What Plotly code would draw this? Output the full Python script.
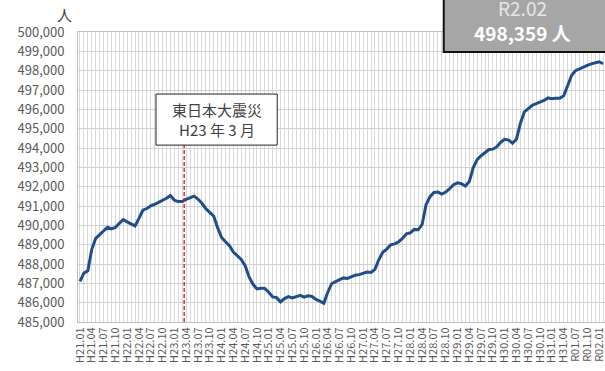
import plotly.graph_objects as go

# Monthly resident population, H21.01 (index 0) through R02.02 (index 133)
population = [
    487100, 487530, 487650, 488760, 489330, 489520, 489720, 489900, 489820, 489890,
    490100, 490300, 490180, 490070, 489970, 490360, 490780, 490870, 491010, 491090,
    491190, 491290, 491400, 491540, 491300, 491230, 491230, 491340, 491430, 491510,
    491360, 491140, 490860, 490660, 490480, 489880, 489370, 489150, 488950, 488620,
    488440, 488240, 487910, 487330, 486950, 486710, 486750, 486740, 486540, 486300,
    486260, 486040, 486210, 486310, 486240, 486310, 486380, 486290, 486360, 486320,
    486170, 486080, 485970, 486540, 486980, 487090, 487200, 487280, 487250, 487340,
    487420, 487450, 487510, 487580, 487560, 487720, 488230, 488610, 488770, 488990,
    489040, 489140, 489320, 489560, 489610, 489790, 489770, 490050, 491070, 491480,
    491700, 491720, 491620, 491720, 491900, 492100, 492200, 492150, 492030, 492270,
    492990, 493400, 493600, 493780, 493920, 493940, 494070, 494300, 494450, 494410,
    494250, 494470, 495280, 495870, 496030, 496210, 496290, 496360, 496460, 496590,
    496550, 496570, 496570, 496700, 497200, 497750, 498000, 498100, 498170, 498270,
    498350, 498400, 498460, 498359,
]
months = list(range(len(population)))

# Quarterly axis labels (every 3rd month)
tick_labels = [
    "H21.01", "H21.04", "H21.07", "H21.10",
    "H22.01", "H22.04", "H22.07", "H22.10",
    "H23.01", "H23.04", "H23.07", "H23.10",
    "H24.01", "H24.04", "H24.07", "H24.10",
    "H25.01", "H25.04", "H25.07", "H25.10",
    "H26.01", "H26.04", "H26.07", "H26.10",
    "H27.01", "H27.04", "H27.07", "H27.10",
    "H28.01", "H28.04", "H28.07", "H28.10",
    "H29.01", "H29.04", "H29.07", "H29.10",
    "H30.01", "H30.04", "H30.07", "H30.10",
    "H31.01", "H31.04", "R01.07", "R01.10",
    "R02.01",
]
tick_positions = [3 * i for i in range(len(tick_labels))]

# Great East Japan Earthquake: March 2011, between H23.03 and H23.04 data points
quake_month = 26.5
latest_label = "R2.02"
latest_value = population[-1]

FONT = "Noto Sans CJK JP, Noto Sans, sans-serif"
GRID = "#d9d9d9"
LABEL = "#595959"

fig = go.Figure()
fig.add_trace(go.Scatter(
    x=months, y=population, mode="lines",
    line=dict(color="#1F4E89", width=3),
    hoverinfo="skip",
))

# Earthquake marker line
fig.add_shape(
    type="line", xref="x", yref="paper",
    x0=quake_month, x1=quake_month, y0=0, y1=0.61,
    line=dict(color="#C8282E", width=1.4, dash="4px,2px"),
)
# Earthquake label box
fig.add_shape(
    type="rect", xref="paper", yref="paper",
    x0=0.148, x1=0.378, y0=0.610, y1=0.786,
    fillcolor="white", line=dict(color="#222222", width=1),
)
fig.add_annotation(
    xref="paper", yref="paper", x=0.263, y=0.698,
    text="東日本大震災<br>H23 年 3 月",
    showarrow=False, font=dict(family=FONT, size=15, color="#404040"),
    xanchor="center", yanchor="middle", align="center", borderpad=0,
)

# Latest value callout
fig.add_shape(
    type="rect", xref="paper", yref="paper",
    x0=0.694, x1=1.06, y0=0.931, y1=1.25,
    fillcolor="#A6A6A6", line=dict(color="#111111", width=2),
)
fig.add_annotation(
    xref="paper", yref="paper", x=0.844, y=1.083, text=latest_label,
    showarrow=False, font=dict(family=FONT, size=19, color="#E6E6E6"),
    xanchor="center", yanchor="middle", borderpad=0,
)
fig.add_annotation(
    xref="paper", yref="paper", x=0.844, y=1.0,
    text=f"<b>{latest_value:,} 人</b>",
    showarrow=False, font=dict(family=FONT, size=19, color="white"),
    xanchor="center", yanchor="middle", borderpad=0,
)

# Unit label
fig.add_annotation(
    xref="paper", yref="paper", x=-0.025, y=1.062, text="人",
    showarrow=False, font=dict(family=FONT, size=15, color="#404040"),
    xanchor="center", yanchor="middle", borderpad=0,
)

fig.update_layout(
    width=605, height=371,
    margin=dict(l=78, r=0, t=32, b=49),
    paper_bgcolor="white", plot_bgcolor="white",
    showlegend=False,
    font=dict(family=FONT, color=LABEL),
)
fig.update_xaxes(
    range=[-0.5, 133.5],
    tickmode="array", tickvals=tick_positions, ticktext=tick_labels,
    tickangle=-90, tickfont=dict(size=11, color=LABEL),
    ticklabeloverflow="allow",
    showgrid=True, gridcolor=GRID, gridwidth=1,
    minor=dict(tickmode="linear", tick0=0, dtick=1, showgrid=True, gridcolor=GRID, gridwidth=1),
    showline=True, linecolor="#bfbfbf", linewidth=1, mirror=True,
    ticks="", zeroline=False,
)
fig.update_yaxes(
    range=[485000, 500000], dtick=1000, tickformat=",d",
    tickfont=dict(size=13, color=LABEL),
    showgrid=True, gridcolor="#d0d0d0", gridwidth=1,
    showline=True, linecolor="#bfbfbf", linewidth=1, mirror=True,
    ticks="", zeroline=False, ticklabelstandoff=10,
)

fig.write_html("out.html")
